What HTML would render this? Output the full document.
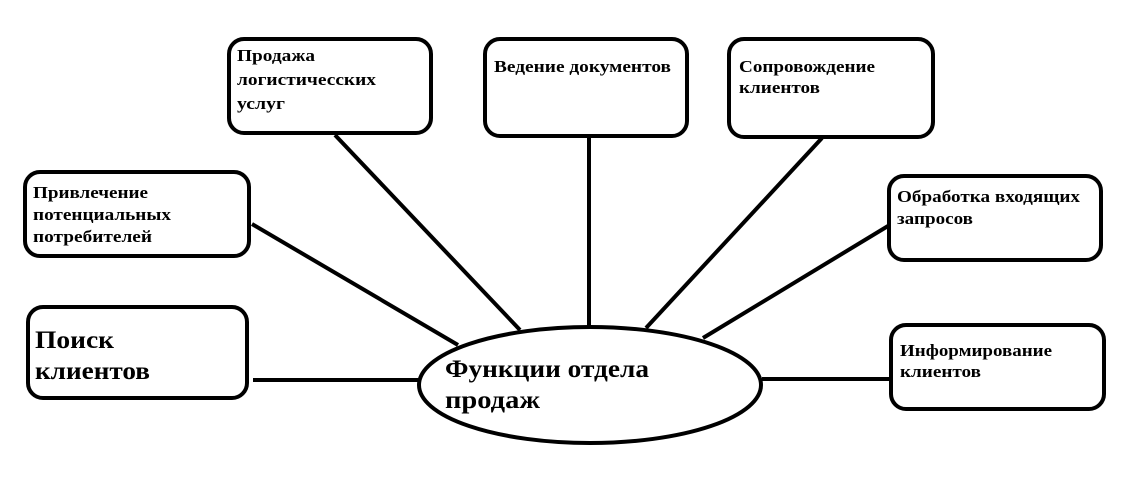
<!DOCTYPE html>
<html><head><meta charset="utf-8"><style>
html,body{margin:0;padding:0;background:#fff;}
svg{display:block;}
text{font-family:"Liberation Serif",serif;font-weight:bold;fill:#000;}
</style></head><body>
<svg width="1142" height="478" viewBox="0 0 1142 478" xmlns="http://www.w3.org/2000/svg">
<g fill="none" stroke="#000" stroke-width="4">
<rect x="229" y="39" width="202" height="94" rx="15"/>
<rect x="485" y="39" width="202" height="97" rx="15"/>
<rect x="729" y="39" width="204" height="98" rx="15"/>
<rect x="25" y="172" width="224" height="84" rx="15"/>
<rect x="889" y="176" width="212" height="84" rx="15"/>
<rect x="28" y="307" width="219" height="91" rx="15"/>
<rect x="891" y="325" width="213" height="84" rx="15"/>
<ellipse cx="590" cy="385" rx="171" ry="58"/>
<line x1="253" y1="380" x2="419" y2="380"/>
<line x1="252" y1="224" x2="458" y2="345"/>
<line x1="335" y1="135" x2="520" y2="330"/>
<line x1="589" y1="138" x2="589" y2="327"/>
<line x1="822" y1="138" x2="646" y2="328"/>
<line x1="888" y1="226" x2="703" y2="338"/>
<line x1="762" y1="379" x2="890" y2="379"/>
</g>
<g font-size="17">
<text x="237" y="61" textLength="78" lengthAdjust="spacingAndGlyphs">Продажа</text>
<text x="237" y="85" textLength="139" lengthAdjust="spacingAndGlyphs">логистичесских</text>
<text x="237" y="109" textLength="48" lengthAdjust="spacingAndGlyphs">услуг</text>
<text x="494" y="72" textLength="177" lengthAdjust="spacingAndGlyphs">Ведение документов</text>
<text x="739" y="72" textLength="136" lengthAdjust="spacingAndGlyphs">Сопровождение</text>
<text x="739" y="93" textLength="81" lengthAdjust="spacingAndGlyphs">клиентов</text>
<text x="33" y="198" textLength="115" lengthAdjust="spacingAndGlyphs">Привлечение</text>
<text x="33" y="220" textLength="138" lengthAdjust="spacingAndGlyphs">потенциальных</text>
<text x="33" y="242" textLength="119" lengthAdjust="spacingAndGlyphs">потребителей</text>
<text x="897" y="202" textLength="183" lengthAdjust="spacingAndGlyphs">Обработка входящих</text>
<text x="897" y="224" textLength="76" lengthAdjust="spacingAndGlyphs">запросов</text>
<text x="900" y="356" textLength="152" lengthAdjust="spacingAndGlyphs">Информирование</text>
<text x="900" y="377" textLength="81" lengthAdjust="spacingAndGlyphs">клиентов</text>
</g>
<g font-size="25">
<text x="35" y="348" textLength="79" lengthAdjust="spacingAndGlyphs">Поиск</text>
<text x="35" y="379" textLength="115" lengthAdjust="spacingAndGlyphs">клиентов</text>
<text x="445" y="377" textLength="204" lengthAdjust="spacingAndGlyphs">Функции отдела</text>
<text x="445" y="408" textLength="95" lengthAdjust="spacingAndGlyphs">продаж</text>
</g>
</svg>
</body></html>
